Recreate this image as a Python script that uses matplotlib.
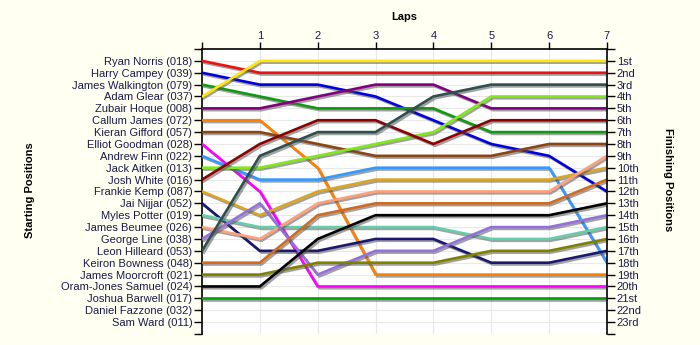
import matplotlib
matplotlib.use("Agg")
import matplotlib.pyplot as plt
import matplotlib.patheffects as pe

drivers = ["Ryan Norris (018)", "Harry Campey (039)", "James Walkington (079)", "Adam Glear (037)",
           "Zubair Hoque (008)", "Callum James (072)", "Kieran Gifford (057)", "Elliot Goodman (028)",
           "Andrew Finn (022)", "Jack Aitken (013)", "Josh White (016)", "Frankie Kemp (087)",
           "Jai Nijjar (052)", "Myles Potter (019)", "James Beumee (026)", "George Line (038)",
           "Leon Hilleard (053)", "Keiron Bowness (048)", "James Moorcroft (021)", "Oram-Jones Samuel (024)",
           "Joshua Barwell (017)", "Daniel Fazzone (032)", "Sam Ward (011)"]
finish_labels = ["1st", "2nd", "3rd", "4th", "5th", "6th", "7th", "8th", "9th", "10th", "11th", "12th",
                 "13th", "14th", "15th", "16th", "17th", "18th", "19th", "20th", "21st", "22nd", "23rd"]
laps = [0, 1, 2, 3, 4, 5, 6, 7]
lap_labels = ["", "1", "2", "3", "4", "5", "6", "7"]

# positions of the first 21 drivers at each lap
lap0 = [1, 2, 3, 4, 5, 6, 7, 8, 9, 10, 11, 12, 13, 14, 15, 16, 17, 18, 19, 20, 21]
lap1 = [2, 3, 4, 1, 5, 6, 7, 12, 11, 10, 8, 14, 17, 15, 16, 13, 9, 18, 19, 20, 21]
lap2 = [2, 3, 5, 1, 4, 10, 8, 20, 11, 9, 6, 12, 17, 15, 13, 19, 7, 14, 18, 16, 21]
lap3 = [2, 4, 5, 1, 3, 19, 9, 20, 10, 8, 6, 11, 16, 15, 12, 17, 7, 13, 18, 14, 21]
lap4 = [2, 6, 5, 1, 3, 19, 9, 20, 10, 7, 8, 11, 16, 15, 12, 17, 4, 13, 18, 14, 21]
lap5 = [2, 8, 7, 1, 5, 19, 9, 20, 10, 4, 6, 11, 18, 16, 12, 15, 3, 13, 17, 14, 21]
lap6 = [2, 9, 7, 1, 5, 19, 8, 20, 10, 4, 6, 11, 18, 16, 12, 15, 3, 13, 17, 14, 21]
lap7 = [2, 12, 7, 1, 5, 19, 8, 20, 18, 4, 6, 10, 17, 15, 9, 14, 3, 11, 16, 13, 21]

colors = ["#ee1111", "#0000dd", "#119911", "#ffe800", "#800080", "#ff8000", "#8b4513", "#ff00ff",
          "#3399ff", "#80e818", "#8b0000", "#daa520", "#191970", "#66cdaa", "#ffa07a", "#9370db",
          "#2f4f4f", "#d2691e", "#808000", "#000000", "#00a000"]

txt = "#1a1a4a"
fig = plt.figure(figsize=(7, 3.45), dpi=100, facecolor="#fffff2")
ax = fig.add_axes([0.2886, 0.032, 0.867 - 0.2886, 0.858 - 0.032])
ax.set_facecolor("white")

all_laps = [lap0, lap1, lap2, lap3, lap4, lap5, lap6, lap7]
for i, c in enumerate(colors):
    ys = [lp[i] for lp in all_laps]
    ax.plot(laps, ys, color=c, lw=1.9, solid_joinstyle="miter", zorder=3,
            path_effects=[pe.SimpleLineShadow(offset=(1.3, -1.3), shadow_color="#555555", alpha=0.55),
                          pe.Normal()])

ax.set_xlim(0, 7)
ax.set_ylim(24, 0)
for y in range(1, 25):
    ax.axhline(y, color="#e8e8e8", lw=0.8, zorder=1)
for x in laps:
    ax.axvline(x, color="#e8e8e8", lw=0.8, zorder=1)

ax.xaxis.tick_top()
ax.set_xticks(laps)
ax.set_xticklabels(lap_labels, fontsize=8, color=txt, family="Liberation Sans")
ax.tick_params(axis="x", direction="out", length=5, width=1, pad=1)
ax.set_yticks(range(0, 25))
ax.set_yticklabels([""] + drivers + [""], fontsize=8, color=txt, family="Liberation Sans")
ax.tick_params(axis="y", direction="out", length=6, width=1, pad=1)
for s in ["bottom", "right"]:
    ax.spines[s].set_visible(False)
ax.spines["left"].set_linewidth(1.2)
ax.spines["top"].set_linewidth(1.2)

ax2 = ax.twinx()
ax2.set_ylim(24, 0)
ax2.set_yticks(range(0, 25))
ax2.set_yticklabels([""] + finish_labels + [""], fontsize=8, color=txt, family="Liberation Sans")
ax2.tick_params(axis="y", direction="out", length=6, width=1, pad=1)
for s in ["bottom", "left", "top"]:
    ax2.spines[s].set_visible(False)
ax2.spines["right"].set_linewidth(1.2)

fig.text(404 / 700, 1 - 17 / 345, "Laps", ha="center", va="center", fontsize=8,
         fontweight="bold", family="Liberation Sans")
fig.text(30 / 700, 1 - 190 / 345, "Starting Positions", ha="center", va="center", rotation=90,
         fontsize=8, fontweight="bold", family="Liberation Sans")
fig.text(668 / 700, 1 - 180 / 345, "Finishing Positions", ha="center", va="center", rotation=270,
         fontsize=8, fontweight="bold", family="Liberation Sans")

fig.savefig("out.png", dpi=100, facecolor=fig.get_facecolor())
